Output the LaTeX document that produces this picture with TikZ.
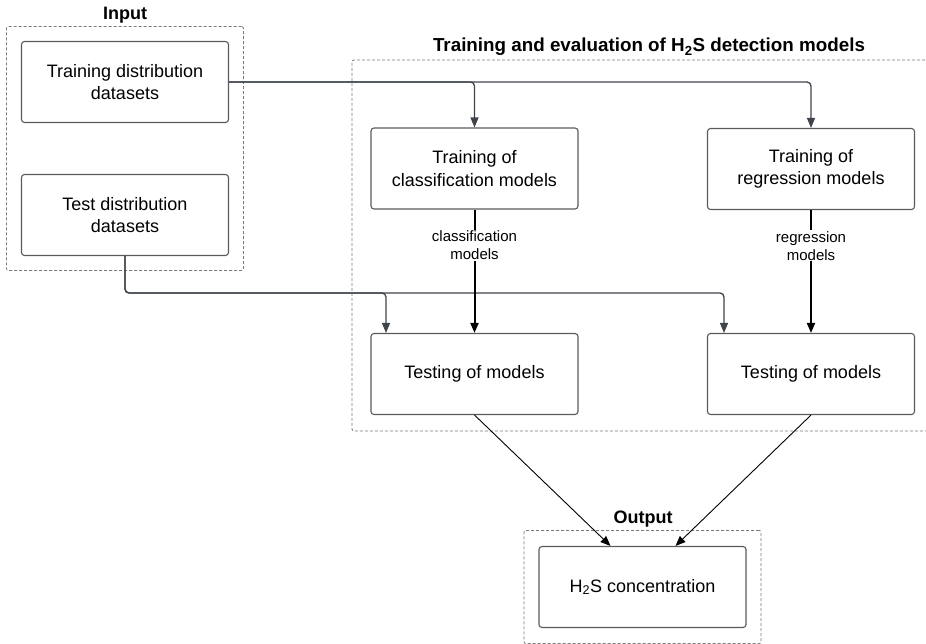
\documentclass[tikz,border=0pt]{standalone}
\usepackage{fontspec}
\setmainfont{Liberation Sans}
\usetikzlibrary{arrows.meta,fit,positioning}
\definecolor{boxgray}{HTML}{5A5A5A}
\definecolor{grpgray}{HTML}{7A7A7A}
\definecolor{conncol}{HTML}{3F444C}
\tikzset{
  stepbox/.style={draw=boxgray, line width=1.1pt, rounded corners=3pt, minimum width=207pt, minimum height=81pt, align=center, inner sep=0pt, font=\fontsize{18}{22.5}\selectfont},
  grp/.style={draw=grpgray, dash pattern=on 3pt off 2pt, line width=0.8pt, rounded corners=2pt},
  grptitle/.style={font=\fontsize{18}{21}\selectfont\bfseries, inner sep=0pt},
  conn/.style={draw=conncol, line width=1.3pt, rounded corners=4pt, -{Triangle[length=10pt,width=8pt]}},
  thickconn/.style={draw=black, line width=2pt, -{Triangle[length=10pt,width=8pt]}},
  thinconn/.style={draw=black, line width=0.9pt, -{Triangle[length=10pt,width=8pt]}},
  lbl/.style={fill=white, align=center, inner sep=1pt, font=\fontsize{15}{18}\selectfont}
}
\begin{document}
\begin{tikzpicture}[x=1pt,y=-1pt]
\useasboundingbox (0,0) rectangle (926,644);
% nodes
\node[stepbox] (trd) at (125,82) {Training distribution\\datasets};
\node[stepbox] (ted) at (125,215) {Test distribution\\datasets};
\node[stepbox] (cls) at (474.5,168.5) {Training of\\classification models};
\node[stepbox] (reg) at (811,169) {Training of\\regression models};
\node[stepbox] (tstL) at (474.5,374) {Testing of models};
\node[stepbox] (tstR) at (811,374) {Testing of models};
\node[stepbox] (out) at (642.5,587) {H\textsubscript{2}S concentration};
% groups
\node[grp, fit=(trd)(ted), inner sep=14.5pt] (ginput) {};
\node[grp, fit=(out), inner sep=14.5pt, inner ysep=15.5pt] (goutput) {};
\coordinate (gtl) at (352,60);
\coordinate (gbl) at (352,431);
\draw[grp] (935,60) -- (gtl) -- (gbl) -- (935,431);
% titles
\node[grptitle] (tin) at (125,15) {Input};
\node[grptitle, font=\fontsize{18.8}{21}\selectfont\bfseries] (ttr) at (649,47) {Training and evaluation of H\textsubscript{2}S detection models};
\node[grptitle] (tout) at (643,519) {Output};
% connectors
\draw[conn] (trd.east) -| (reg.north);
\draw[conn] (trd.east) -| (cls.north);
\coordinate (tb) at (125,293);
\draw[conn] (ted.south) -- (tb) -| ([xshift=-87pt]tstR.north);
\draw[conn] (ted.south) -- (tb) -| ([xshift=-88.5pt]tstL.north);
\draw[thickconn] (cls.south) -- node[lbl, pos=0.29] (lc) {classification\\models} (tstL.north);
\draw[thickconn] (reg.south) -- node[lbl, pos=0.29] (lr) {regression\\models} (tstR.north);
\draw[thinconn] (tstL.south) -- ([xshift=-32pt]out.north);
\draw[thinconn] (tstR.south) -- ([xshift=33pt]out.north);
\end{tikzpicture}
\end{document}
